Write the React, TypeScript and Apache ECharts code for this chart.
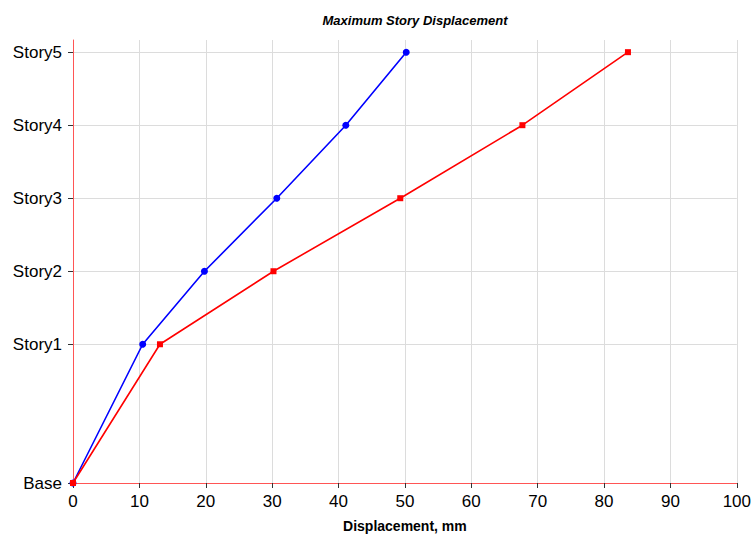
import React, { useEffect, useRef } from "react";
import * as echarts from "echarts";

const storyNames = ["Base", "Story1", "Story2", "Story3", "Story4", "Story5"];
const storyElevations = [0, 5.7, 8.7, 11.7, 14.7, 17.7];
const seriesBlue = [0, 10.5, 19.8, 30.7, 41.1, 50.2];
const seriesRed = [0, 13.1, 30.2, 49.3, 67.7, 83.6];

export default function App() {
  const ref = useRef<HTMLDivElement>(null);
  useEffect(() => {
    const chart = echarts.init(ref.current!, null, { renderer: "svg" });
    const font = "Liberation Sans, Arial, sans-serif";
    chart.setOption({
      animation: false,
      title: {
        text: "Maximum Story Displacement",
        left: 410,
        textAlign: "center",
        top: 9,
        textStyle: { fontSize: 13, fontWeight: "bold", fontStyle: "italic", color: "#000", fontFamily: font },
      },
      grid: { left: 73, right: 17, top: 40, bottom: 53.5, containLabel: false },
      xAxis: {
        type: "value",
        min: 0,
        max: 100,
        interval: 10,
        name: "Displacement, mm",
        nameLocation: "middle",
        nameGap: 36,
        nameTextStyle: { fontSize: 14, fontWeight: "bold", color: "#000", fontFamily: font },
        axisLine: { lineStyle: { color: "#ff5555", width: 1 } },
        axisTick: { show: true, length: 5, lineStyle: { color: "#333" } },
        axisLabel: { fontSize: 17, color: "#000", fontFamily: font, margin: 10 },
        splitLine: { show: true, lineStyle: { color: "#dcdcdc", width: 1 } },
      },
      yAxis: {
        type: "value",
        min: 0,
        max: 18.2,
        axisLine: { show: true, lineStyle: { color: "#ff5555", width: 1 } },
        axisTick: { show: true, length: 5, customValues: storyElevations, lineStyle: { color: "#333" } },
        axisLabel: {
          fontSize: 17,
          color: "#000",
          fontFamily: font,
          margin: 11,
          customValues: storyElevations,
          formatter: (v: number) => {
            const i = storyElevations.findIndex((e) => Math.abs(e - v) < 1e-6);
            return i >= 0 ? storyNames[i] : "";
          },
        },
        splitLine: { show: true, lineStyle: { color: "#dcdcdc", width: 1 } },
      },
      series: [
        {
          type: "line",
          data: seriesBlue.map((x, i) => [x, storyElevations[i]]),
          color: "#0000ff",
          lineStyle: { color: "#0000ff", width: 1.6 },
          symbol: "circle",
          symbolSize: 7,
          itemStyle: { color: "#0000ff" },
          z: 3,
        },
        {
          type: "line",
          data: seriesRed.map((x, i) => [x, storyElevations[i]]),
          color: "#ff0000",
          lineStyle: { color: "#ff0000", width: 1.6 },
          symbol: "rect",
          symbolSize: 6,
          itemStyle: { color: "#ff0000" },
          z: 4,
        },
      ],
    });
    return () => chart.dispose();
  }, []);
  return <div ref={ref} style={{ width: 754, height: 538, position: "absolute", left: 0, top: 0 }} />;
}
